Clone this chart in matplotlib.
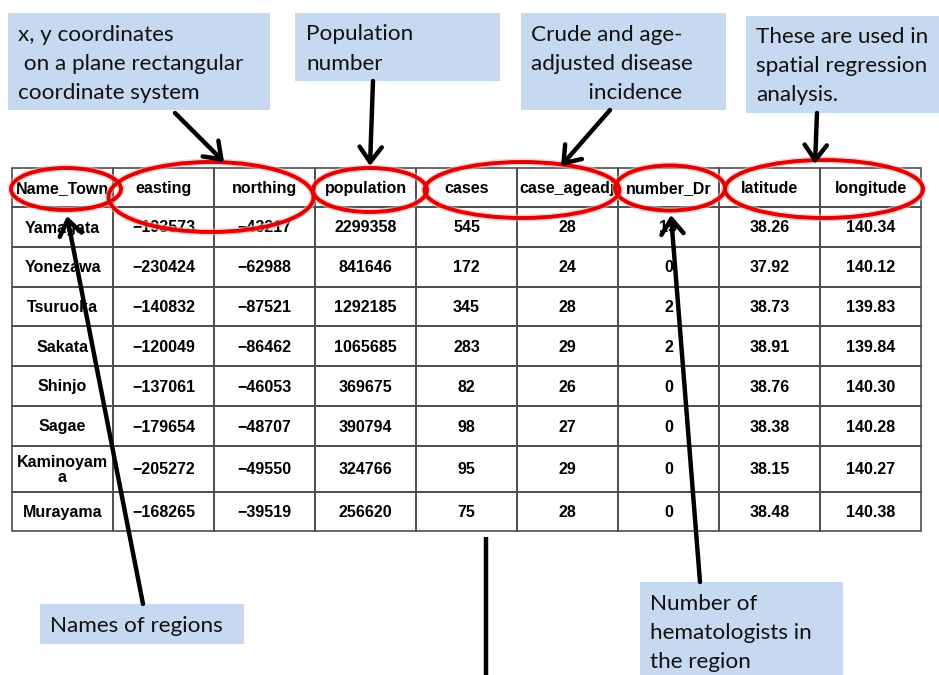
import matplotlib
matplotlib.use("Agg")
import matplotlib.pyplot as plt
from matplotlib.patches import Rectangle, Ellipse

plt.rcParams["font.family"] = ["Liberation Sans", "DejaVu Sans"]

# table data
columns = ["Name_Town", "easting", "northing", "population", "cases",
           "case_ageadj", "number_Dr", "latitude", "longitude"]
towns = ["Yamagata", "Yonezawa", "Tsuruoka", "Sakata", "Shinjo", "Sagae",
         "Kaminoyam\na", "Murayama"]
easting = [-193573, -230424, -140832, -120049, -137061, -179654, -205272, -168265]
northing = [-43217, -62988, -87521, -86462, -46053, -48707, -49550, -39519]
population = [2299358, 841646, 1292185, 1065685, 369675, 390794, 324766, 256620]
cases = [545, 172, 345, 283, 82, 98, 95, 75]
case_ageadj = [28, 24, 28, 29, 26, 27, 29, 28]
number_dr = [15, 0, 2, 2, 0, 0, 0, 0]
latitude = [38.26, 37.92, 38.73, 38.91, 38.76, 38.38, 38.15, 38.48]
longitude = [140.34, 140.12, 139.83, 139.84, 140.30, 140.28, 140.27, 140.38]

# layout (pixels)
W, H = 939, 675
X0, COLW = 12, 101
ROW_EDGES = [168, 207, 247, 287, 326, 366, 406, 446, 492, 531]
BLUE = "#C6D9F1"
RED = "#E30000"
BOX_FONT = ["Lato", "DejaVu Sans"]


def fmt(v):
    if isinstance(v, float):
        return f"{v:.2f}"
    return f"{v}".replace("-", "\u2212")


fig = plt.figure(figsize=(W / 100, H / 100), dpi=100)
ax = fig.add_axes([0, 0, 1, 1])
ax.set_xlim(0, W)
ax.set_ylim(H, 0)
ax.axis("off")

# --- table ---
rows = [columns]
for r in zip(towns, easting, northing, population, cases, case_ageadj,
             number_dr, latitude, longitude):
    rows.append([fmt(v) for v in r])

for i, row in enumerate(rows):
    y0, y1 = ROW_EDGES[i], ROW_EDGES[i + 1]
    for j, val in enumerate(row):
        x = X0 + j * COLW
        cell = Rectangle((x, y0), COLW, y1 - y0, fill=False, lw=1.2,
                         edgecolor="#4d4d4d", zorder=2)
        ax.add_patch(cell)
        t = ax.text(x + COLW / 2, (y0 + y1) / 2 + 1, val, ha="center", va="center",
                    fontsize=11.5, fontweight="bold", linespacing=1.0, zorder=3)
        t.set_clip_path(cell)

# --- red ellipses on header ---
ellipses = [(66, 189, 110, 42), (211, 197, 205, 70), (370, 190, 114, 44),
            (522, 190, 195, 56), (670, 188, 110, 45), (824, 189, 198, 58)]
for cx, cy, w, h in ellipses:
    ax.add_patch(Ellipse((cx, cy), w, h, fill=False, edgecolor="#f4b0b0",
                         lw=5, zorder=4, alpha=0.6))
    ax.add_patch(Ellipse((cx, cy), w, h, fill=False, edgecolor=RED,
                         lw=2.8, zorder=5))

# --- blue callout boxes ---
boxes = [
    ((8, 13, 262, 97), (18, 64), "x, y coordinates\n on a plane rectangular\ncoordinate system"),
    ((295, 13, 205, 68), (306, 49), "Population\nnumber"),
    ((521, 13, 205, 97), (531, 64), "Crude and age-\nadjusted disease\n          incidence"),
    ((746, 16, 200, 97), (756, 66), "These are used in\nspatial regression\nanalysis."),
    ((40, 604, 204, 40), (50, 626), "Names of regions"),
    ((640, 582, 203, 100), (650, 633), "Number of\nhematologists in\nthe region"),
]
for (bx, by, bw, bh), (tx, ty), txt in boxes:
    ax.add_patch(Rectangle((bx, by), bw, bh, facecolor=BLUE, edgecolor="none", zorder=1))
    ax.text(tx, ty, txt, ha="left", va="center", fontsize=16.2, family=BOX_FONT,
            linespacing=1.58, color="#111111", zorder=6)

# --- arrows ---
arrows = [((175, 113), (224, 162)), ((373, 81), (370, 166)),
          ((610, 110), (561, 166)), ((817, 113), (815, 164)),
          ((143, 604), (67, 216)), ((700, 582), (671, 215))]
for tail, tip in arrows:
    ax.annotate("", xy=tip, xytext=tail, zorder=7,
                arrowprops=dict(arrowstyle="->,head_length=0.55,head_width=0.4",
                                lw=3.2, color="black", shrinkA=0, shrinkB=0,
                                mutation_scale=20))
ax.plot([486, 486], [537, 680], color="black", lw=3.2, zorder=7,
        solid_capstyle="butt")

fig.savefig("out.png", dpi=100, facecolor="white")
